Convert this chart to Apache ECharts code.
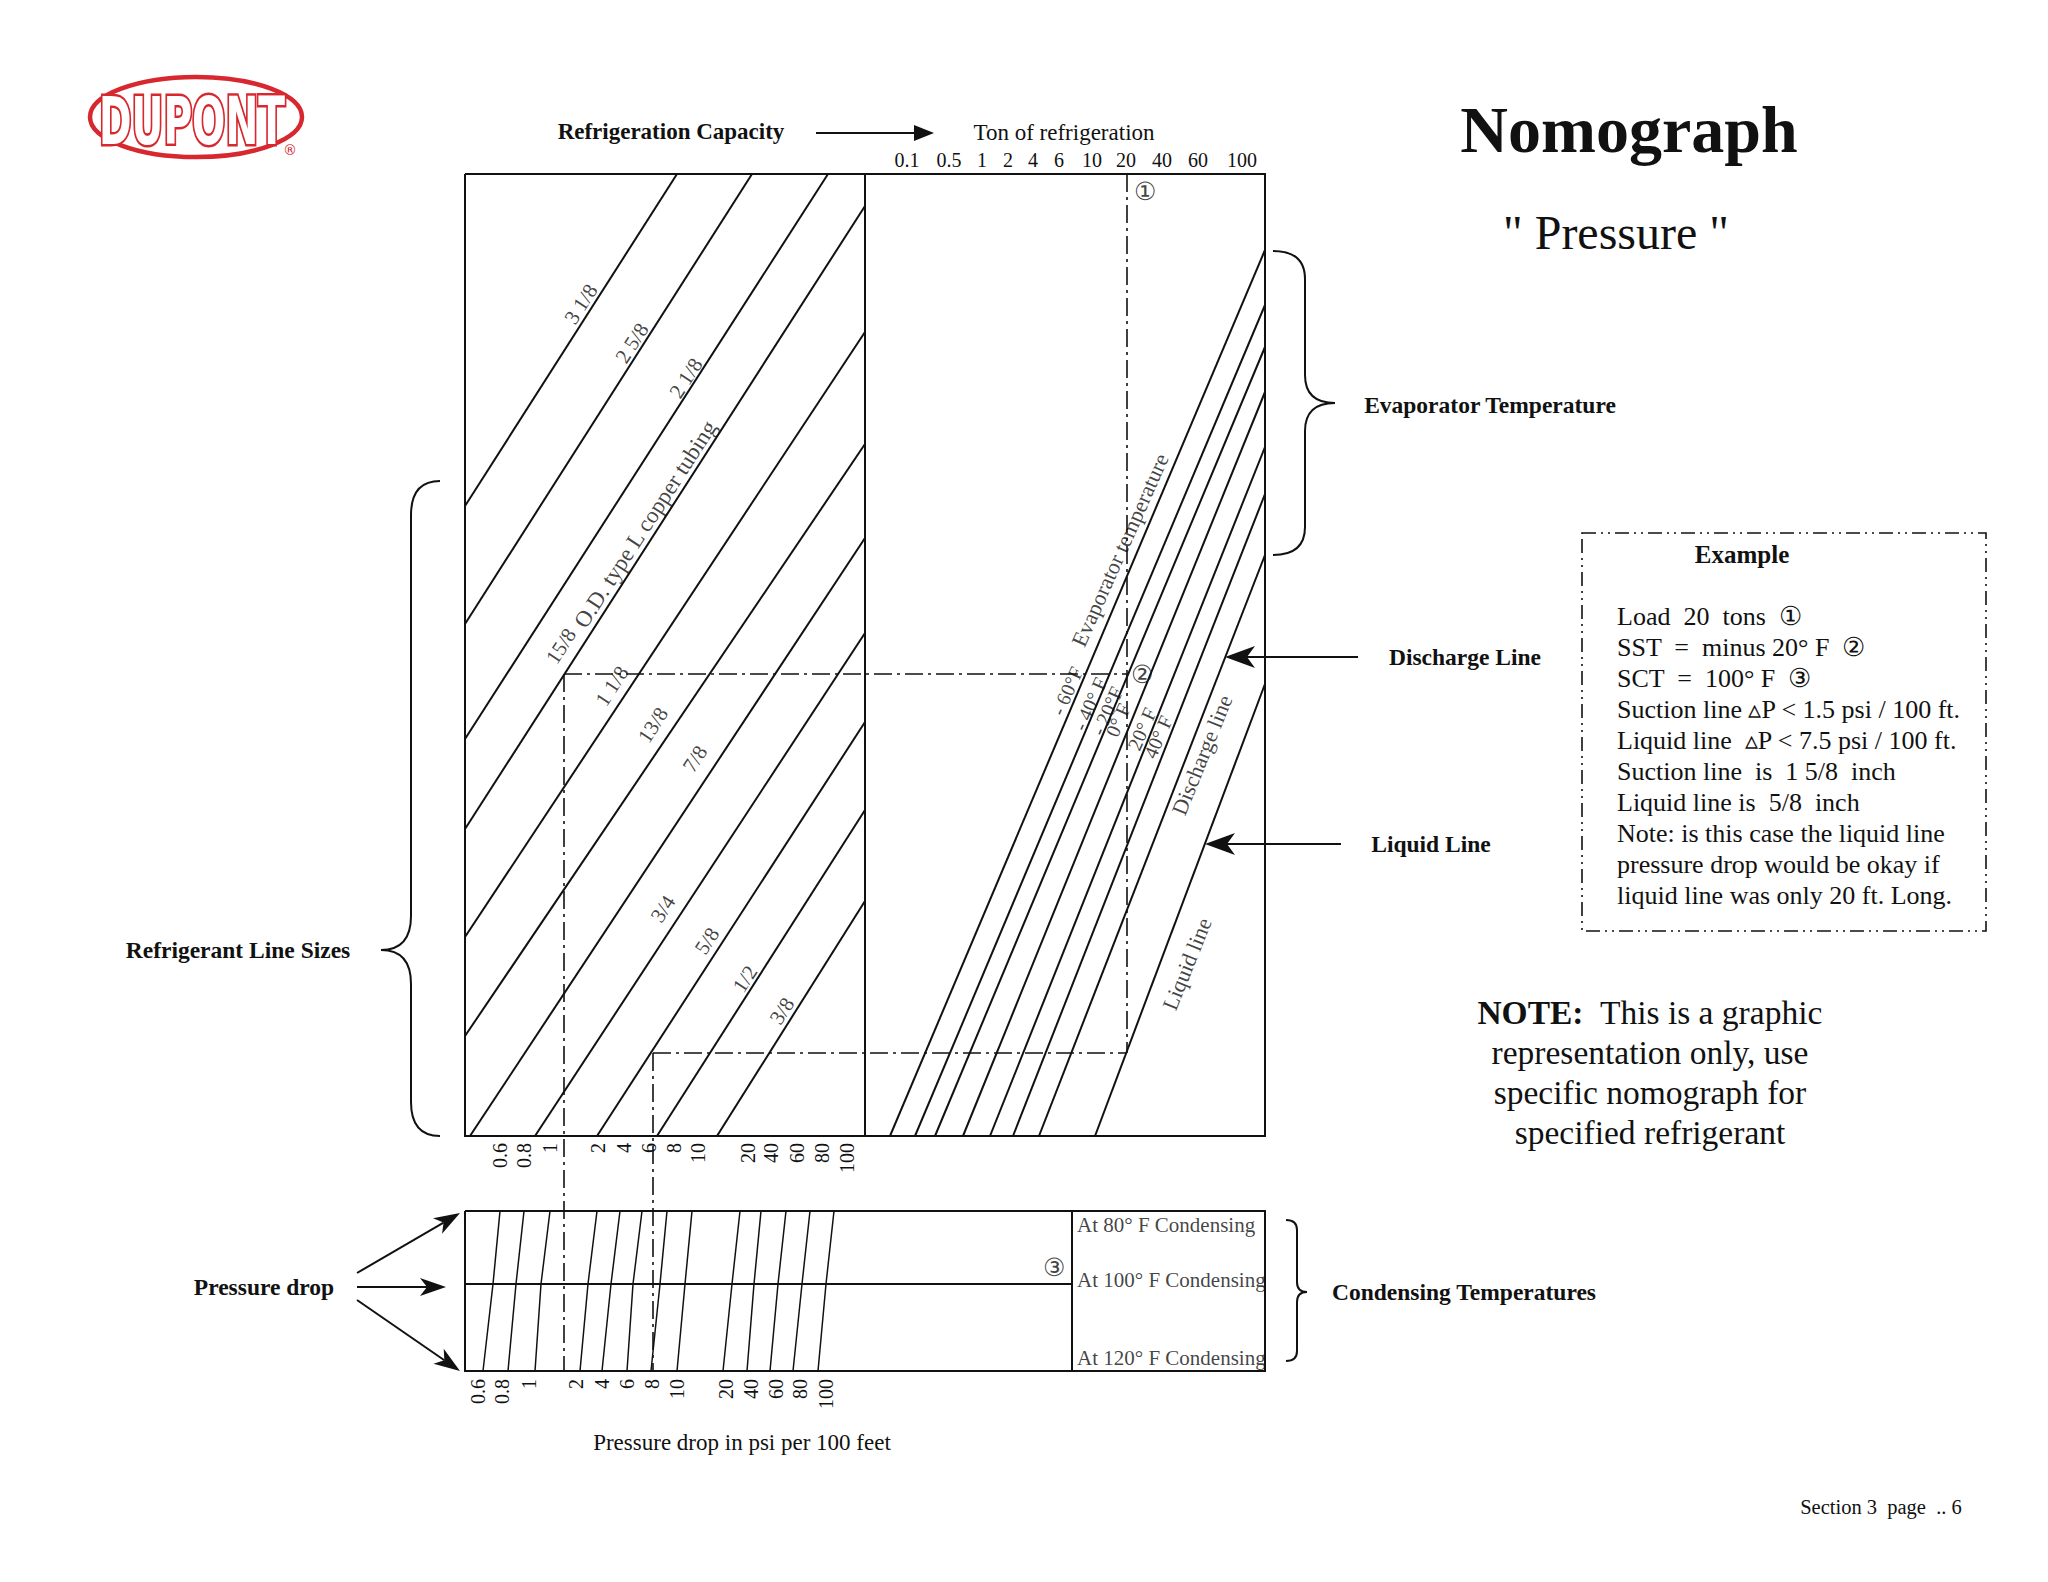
<!DOCTYPE html>
<html>
<head>
<meta charset="utf-8">
<title>Nomograph - Pressure</title>
<script src="https://cdn.jsdelivr.net/npm/echarts@6/dist/echarts.min.js"></script>
<style>
  html, body { margin: 0; padding: 0; background: #fff; }
  #chart { width: 2048px; height: 1582px; }
</style>
</head>
<body>
<div id="chart"></div>
<script>
const SERIF = '"Liberation Serif", "Times New Roman", serif';
const INK = '#111';
const RED = '#d7282f';

// drawing units: x 0..800 across the nomograph, y 0..1197 from its top edge down
const tonLabels = ['0.1', '0.5', '1', '2', '4', '6', '10', '20', '40', '60', '100'];
const tonPos = [442, 484, 517, 543, 568, 594, 627, 661, 697, 733, 777];

const dropLabels = ['0.6', '0.8', '1', '2', '4', '6', '8', '10', '20', '40', '60', '80', '100'];
const dropPosMain = [35, 59, 85, 133, 159, 184, 209, 233, 283, 306, 332, 357, 382];
const dropPosCond = [13, 37, 64, 111, 137, 162, 187, 212, 261, 286, 311, 335, 361];

const condNames = ['At 80° F Condensing', 'At 100° F Condensing', 'At 120° F Condensing'];
const condRows = [1037, 1110, 1197];
const dropAt80 = [35, 59, 85, 132, 155, 177, 202, 227, 275, 296, 321, 345, 369];
const dropAt100 = [28, 51, 76, 123, 146, 168, 195, 220, 267, 289, 313, 337, 361];
const dropAt120 = [18, 43, 70, 115, 137, 162, 186, 212, 258, 282, 305, 328, 353];

const pipeSizes = ['3 1/8', '2 5/8', '2 1/8', '15/8', '1 1/8', '13/8', '7/8', '3/4', '5/8', '1/2', '3/8'];
const pipeUpper = [[212, 0], [287, 0], [363, 0], [400, 32], [400, 158], [400, 270], [400, 364], [400, 459], [400, 548], [400, 636], [400, 727]];
const pipeLower = [[0, 332], [0, 450], [0, 565], [0, 655], [0, 763], [0, 862], [5, 962], [70, 962], [132, 962], [192, 962], [252, 962]];
const pipeLabelAt = [[116, 130], [167, 169], [221, 204], [96, 472], [147, 512], [188, 551], [230, 585], [198, 735], [242, 767], [280, 805], [317, 837]];

const evapNames = ['- 60°F', '- 40° F', '- 20°F', '0° F', '20° F', '40° F', 'Discharge line', 'Liquid line'];
const evapLower = [425, 450, 470, 498, 525, 548, 574, 630];
const evapUpper = [76, 131, 173, 218, 273, 320, 381, 510];
const evapLabelAt = [[602, 517], [625, 530], [642, 537], [653, 546], [677, 555], [693, 563], [737, 581], [722, 790]];

const examplePath = [
  [[662, 0], [662, 879]],
  [[99, 500], [662, 500]],
  [[99, 500], [99, 1197]],
  [[188, 879], [662, 879]],
  [[188, 879], [188, 1197]]
];
const exampleMarks = ['①', '②', '③'];
const exampleMarkAt = [[680, 17], [677, 500], [589, 1093]];

const exampleLines = [
  'Load  20  tons  ①',
  'SST  =  minus 20° F  ②',
  'SCT  =  100° F  ③',
  'Suction line ▵P < 1.5 psi / 100 ft.',
  'Liquid line  ▵P < 7.5 psi / 100 ft.',
  'Suction line  is  1 5/8  inch',
  'Liquid line is  5/8  inch',
  'Note: is this case the liquid line',
  'pressure drop would be okay if',
  'liquid line was only 20 ft. Long.'
];
const noteLines = ['{b|NOTE:}  This is a graphic', 'representation only, use', 'specific nomograph for', 'specified refrigerant'];

const frames = [
  [[0, 0], [800, 0], [800, 962], [0, 962], [0, 0]],
  [[400, 0], [400, 962]],
  [[0, 1037], [800, 1037], [800, 1197], [0, 1197], [0, 1037]],
  [[0, 1110], [607, 1110]],
  [[607, 1037], [607, 1197]]
];

function labelAt(pos, labels) {
  return (v) => {
    const i = pos.indexOf(v);
    return i < 0 ? '' : labels[i];
  };
}

function text(x, y, str, size, extra) {
  return {
    type: 'text', x, y, z: 10,
    style: Object.assign({
      text: str, fontSize: size, fontFamily: SERIF, fill: INK,
      align: 'center', verticalAlign: 'middle'
    }, extra || {})
  };
}

function arrow(x1, y1, x2, y2, len, half, notch) {
  const a = Math.atan2(y2 - y1, x2 - x1);
  const c = Math.cos(a), s = Math.sin(a);
  const bx = x2 - c * len, by = y2 - s * len;
  const nx = x2 - c * (len - notch), ny = y2 - s * (len - notch);
  return [
    { type: 'line', z: 10, shape: { x1, y1, x2: nx, y2: ny }, style: { stroke: INK, lineWidth: 2 } },
    {
      type: 'polygon', z: 10,
      shape: { points: [[x2, y2], [bx - s * half, by + c * half], [nx, ny], [bx + s * half, by - c * half]] },
      style: { fill: INK }
    }
  ];
}

function brace(xOpen, xSpine, xTip, yTop, yMid, yBot, r) {
  const st = { stroke: INK, lineWidth: 2, fill: 'none' };
  const q = (x1, y1, cx, cy, x2, y2) => ({ type: 'bezierCurve', z: 10, shape: { x1, y1, x2, y2, cpx1: cx, cpy1: cy }, style: st });
  const l = (x1, y1, x2, y2) => ({ type: 'line', z: 10, shape: { x1, y1, x2, y2 }, style: st });
  return [
    q(xOpen, yTop, xSpine, yTop, xSpine, yTop + r),
    l(xSpine, yTop + r, xSpine, yMid - r),
    q(xSpine, yMid - r, xSpine, yMid, xTip, yMid),
    q(xTip, yMid, xSpine, yMid, xSpine, yMid + r),
    l(xSpine, yMid + r, xSpine, yBot - r),
    q(xSpine, yBot - r, xSpine, yBot, xOpen, yBot)
  ];
}

const chart = echarts.init(document.getElementById('chart'), null, { renderer: 'svg' });

const segLine = { color: INK, width: 2, opacity: 1 };
const tickFont = { fontFamily: SERIF, fontSize: 20, color: INK };

chart.setOption({
  backgroundColor: '#fff',
  animation: false,
  grid: [
    { left: 465, top: 174, width: 800, height: 1197 },
    { left: 465, top: 174, width: 800, height: 962 }
  ],
  xAxis: [
    {
      gridIndex: 0, type: 'value', position: 'top', min: 0, max: 800,
      axisLine: { show: false }, axisTick: { show: false }, splitLine: { show: false },
      axisLabel: Object.assign({ customValues: tonPos, formatter: labelAt(tonPos, tonLabels), margin: 4 }, tickFont)
    },
    {
      gridIndex: 0, type: 'value', position: 'bottom', min: 0, max: 800,
      axisLine: { show: false }, axisTick: { show: false }, splitLine: { show: false },
      axisLabel: Object.assign({ customValues: dropPosCond, formatter: labelAt(dropPosCond, dropLabels), rotate: 90, margin: 8 }, tickFont)
    },
    {
      gridIndex: 1, type: 'value', position: 'bottom', min: 0, max: 800,
      axisLine: { show: false }, axisTick: { show: false }, splitLine: { show: false },
      axisLabel: Object.assign({ customValues: dropPosMain, formatter: labelAt(dropPosMain, dropLabels), rotate: 90, margin: 7 }, tickFont)
    }
  ],
  yAxis: [
    { gridIndex: 0, type: 'value', min: 0, max: 1197, inverse: true, show: false },
    { gridIndex: 1, type: 'value', min: 0, max: 962, inverse: true, show: false }
  ],
  series: [
    {
      name: 'Frame', type: 'lines', coordinateSystem: 'cartesian2d', xAxisIndex: 0, yAxisIndex: 0,
      polyline: true, silent: true,
      lineStyle: segLine,
      data: frames.map((coords) => ({ coords }))
    },
    {
      name: 'Line sizes', type: 'lines', coordinateSystem: 'cartesian2d', xAxisIndex: 0, yAxisIndex: 0,
      silent: true, lineStyle: segLine,
      data: pipeSizes.map((name, i) => ({ name, coords: [pipeLower[i], pipeUpper[i]] }))
    },
    {
      name: 'Evaporator', type: 'lines', coordinateSystem: 'cartesian2d', xAxisIndex: 0, yAxisIndex: 0,
      silent: true, lineStyle: segLine,
      data: evapNames.map((name, i) => ({ name, coords: [[evapLower[i], 962], [800, evapUpper[i]]] }))
    },
    {
      name: 'Condensing', type: 'lines', coordinateSystem: 'cartesian2d', xAxisIndex: 0, yAxisIndex: 0,
      polyline: true, silent: true,
      lineStyle: { color: INK, width: 1.5, opacity: 1 },
      data: dropLabels.map((name, i) => ({
        name,
        coords: [[dropAt80[i], condRows[0]], [dropAt100[i], condRows[1]], [dropAt120[i], condRows[2]]]
      }))
    },
    {
      name: 'Example', type: 'lines', coordinateSystem: 'cartesian2d', xAxisIndex: 0, yAxisIndex: 0,
      silent: true,
      lineStyle: { color: INK, width: 1.6, opacity: 1, type: [18, 5, 3, 5] },
      data: examplePath.map((coords) => ({ coords }))
    },
    {
      name: 'Size labels', type: 'scatter', xAxisIndex: 0, yAxisIndex: 0, symbolSize: 0, silent: true,
      label: { show: true, position: 'inside', formatter: '{b}', rotate: 57, fontFamily: SERIF, fontSize: 21, color: INK },
      data: pipeSizes.map((name, i) => ({ name, value: pipeLabelAt[i] }))
        .concat([{ name: 'O.D. type L copper tubing', value: [180, 350], label: { fontSize: 23 } }])
    },
    {
      name: 'Temperature labels', type: 'scatter', xAxisIndex: 0, yAxisIndex: 0, symbolSize: 0, silent: true,
      label: { show: true, position: 'inside', formatter: '{b}', rotate: 66, fontFamily: SERIF, fontSize: 20, color: INK },
      data: evapNames.map((name, i) => ({
        name, value: evapLabelAt[i],
        label: i >= 6 ? { fontSize: 22, rotate: 68 } : {}
      })).concat([{ name: 'Evaporator temperature', value: [655, 376], label: { fontSize: 22 } }])
    },
    {
      name: 'Example marks', type: 'scatter', xAxisIndex: 0, yAxisIndex: 0, symbolSize: 0, silent: true,
      label: { show: true, position: 'inside', formatter: '{b}', fontFamily: SERIF, fontSize: 25, color: INK },
      data: exampleMarks.map((name, i) => ({ name, value: exampleMarkAt[i] }))
    },
    {
      name: 'Condensing labels', type: 'scatter', xAxisIndex: 0, yAxisIndex: 0, symbolSize: 0, silent: true,
      label: { show: true, position: 'right', distance: 0, formatter: '{b}', fontFamily: SERIF, fontSize: 21, color: INK },
      data: condNames.map((name, i) => ({ name, value: [612, [1051, 1106, 1184][i]] }))
    },
    { type: 'scatter', xAxisIndex: 2, yAxisIndex: 1, data: [], silent: true }
  ],
  graphic: {
    elements: [
      // logo
      { type: 'ellipse', z: 10, shape: { cx: 196, cy: 117, rx: 106, ry: 40 }, style: { fill: 'none', stroke: RED, lineWidth: 4.5 } },
      {
        type: 'text', x: 192, y: 121, z: 10, scaleX: 0.66,
        style: {
          text: 'DUPONT', fontSize: 66, fontWeight: 'bold',
          fontFamily: '"Liberation Sans Narrow", "DejaVu Sans Condensed", sans-serif',
          fill: '#fff', stroke: RED, lineWidth: 5, align: 'center', verticalAlign: 'middle'
        }
      },
      text(290, 150, '®', 14, { fill: RED, fontFamily: 'DejaVu Sans' }),

      text(671, 131, 'Refrigeration Capacity', 23, { fontWeight: 'bold' }),
      ...arrow(816, 133, 934, 133, 20, 8, 0),
      text(1064, 132, 'Ton of refrigeration', 23),

      text(1629, 129, 'Nomograph', 66, { fontWeight: 'bold' }),
      text(1616, 232, '" Pressure "', 48),

      ...brace(1273, 1305, 1335, 251, 403, 555, 28),
      text(1490, 405, 'Evaporator Temperature', 23.5, { fontWeight: 'bold' }),

      ...arrow(1358, 657, 1225, 657, 30, 11, 8),
      text(1465, 657, 'Discharge Line', 23.5, { fontWeight: 'bold' }),
      ...arrow(1341, 844, 1205, 844, 30, 11, 8),
      text(1431, 844, 'Liquid Line', 23.5, { fontWeight: 'bold' }),

      {
        type: 'rect', z: 10, shape: { x: 1582, y: 533, width: 404, height: 398 },
        style: { fill: 'none', stroke: INK, lineWidth: 1.6, lineDash: [14, 5, 2, 5, 2, 5] }
      },
      text(1742, 554, 'Example', 25, { fontWeight: 'bold' }),
      ...exampleLines.map((s, i) => text(1617, 616 + i * 31.1, s, 26, { align: 'left' })),

      ...noteLines.map((s, i) => text(1650, 1012 + i * 40, s, 33.5, {
        rich: { b: { fontWeight: 'bold', fontSize: 33.5, fontFamily: SERIF, fill: INK } }
      })),

      ...brace(440, 411, 381, 481, 950, 1136, 34),
      text(238, 950, 'Refrigerant Line Sizes', 23.5, { fontWeight: 'bold' }),

      text(264, 1287, 'Pressure drop', 23.5, { fontWeight: 'bold' }),
      ...arrow(357, 1273, 460, 1213, 26, 9, 7),
      ...arrow(357, 1287, 446, 1287, 26, 9, 7),
      ...arrow(357, 1300, 460, 1371, 26, 9, 7),

      ...brace(1286, 1297, 1307, 1220, 1292, 1361, 10),
      text(1464, 1292, 'Condensing Temperatures', 23.5, { fontWeight: 'bold' }),

      text(742, 1442, 'Pressure drop in psi per 100 feet', 23),
      text(1881, 1507, 'Section 3  page  .. 6', 20.5)
    ]
  }
});
</script>
</body>
</html>
